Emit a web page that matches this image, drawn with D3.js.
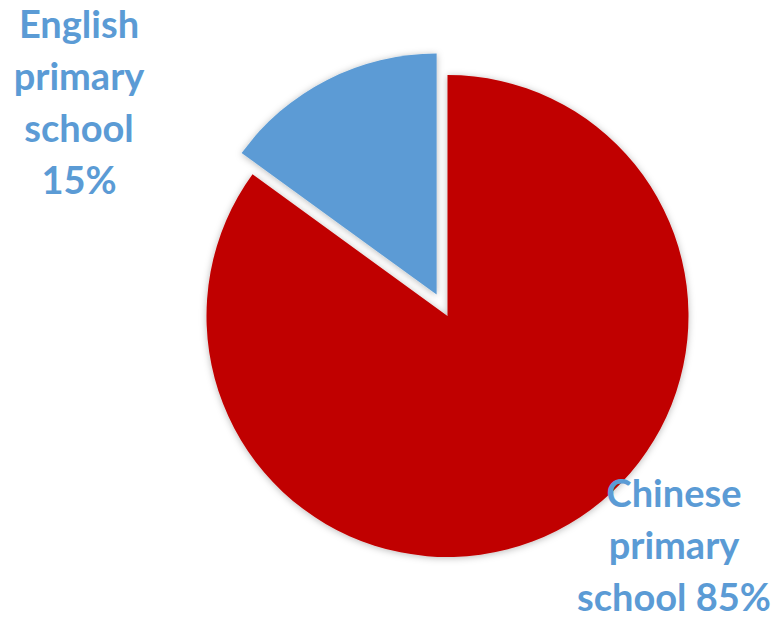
<!DOCTYPE html>
<html>
<head>
<meta charset="utf-8">
<script src="https://cdn.jsdelivr.net/npm/d3@7"></script>
<style>
  html, body { margin: 0; padding: 0; background: #ffffff; }
  svg { display: block; }
</style>
</head>
<body>
<svg id="chart" width="776" height="618"></svg>
<script>
// School type shares
const categories = ["Chinese primary school", "English primary school"];
const values = [85, 15];
const labelLines = [
  ["Chinese", "primary", "school 85%"],
  ["English", "primary", "school", "15%"]
];
const colors = ["#C00000", "#5B9BD5"];

// Layout
const W = 776, H = 618;
const cx = 447.5, cy = 316, R = 241;
const explode = [0, 24];           // slice offset from the centre, px
const labelPos = [[674, 507], [79, 38]]; // first-line baseline of each label
const lineGap = 52;

const svg = d3.select("#chart");

const defs = svg.append("defs");
const f = defs.append("filter").attr("id", "shadow")
  .attr("x", "-20%").attr("y", "-20%").attr("width", "140%").attr("height", "140%");
f.append("feDropShadow")
  .attr("dx", 0).attr("dy", 1)
  .attr("stdDeviation", 3.5)
  .attr("flood-color", "#000")
  .attr("flood-opacity", 0.28);

// Pie starts at 12 o'clock and runs clockwise; the small slice ends at the top
const pie = d3.pie().sort(null).startAngle(0).endAngle(2 * Math.PI).value(d => d);
const arcs = pie(values);
const arc = d3.arc().innerRadius(0).outerRadius(R);

const g = svg.append("g").attr("transform", `translate(${cx},${cy})`);

g.selectAll("path.slice")
  .data(arcs)
  .join("path")
  .attr("class", "slice")
  .attr("d", arc)
  .attr("fill", (d, i) => colors[i])
  .attr("filter", "url(#shadow)")
  .attr("transform", (d, i) => {
    const mid = (d.startAngle + d.endAngle) / 2;
    const dx = Math.sin(mid) * explode[i];
    const dy = -Math.cos(mid) * explode[i];
    return `translate(${dx},${dy})`;
  });

// Data labels
const labels = svg.selectAll("text.lbl")
  .data(categories)
  .join("text")
  .attr("class", "lbl")
  .attr("text-anchor", "middle")
  .attr("font-family", "Lato, 'Open Sans', sans-serif")
  .attr("font-weight", "bold")
  .attr("font-size", 38)
  .attr("fill", "#5B9BD5");

labels.each(function(d, i) {
  const t = d3.select(this);
  labelLines[i].forEach((line, j) => {
    t.append("tspan")
      .attr("x", labelPos[i][0])
      .attr("y", labelPos[i][1] + j * lineGap)
      .text(line);
  });
});
</script>
</body>
</html>
